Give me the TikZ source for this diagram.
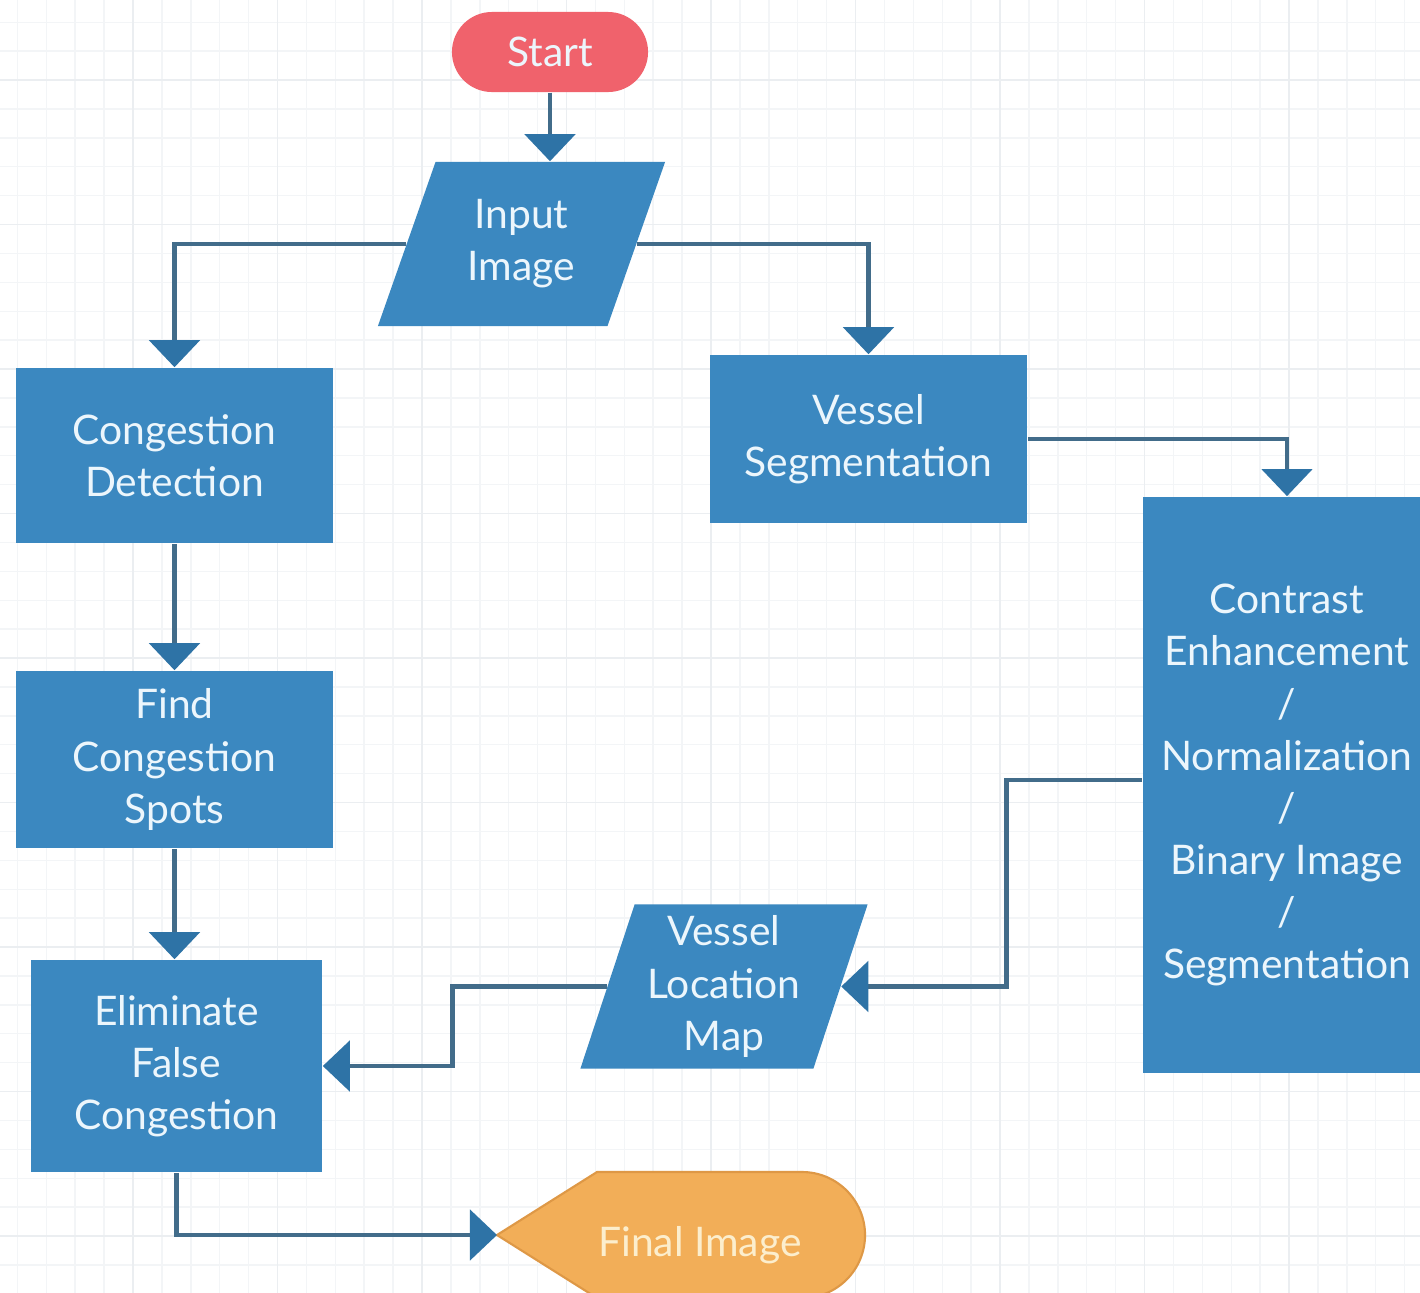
\documentclass[tikz,border=0pt]{standalone}
\usepackage{fontspec}
\setmainfont{Lato}
\usetikzlibrary{arrows.meta,shapes.geometric,calc}
\definecolor{procblue}{RGB}{59,136,192}
\definecolor{startred}{RGB}{240,98,108}
\definecolor{finalorange}{RGB}{242,174,88}
\definecolor{finaledge}{RGB}{222,152,70}
\definecolor{finaltext}{RGB}{252,238,205}
\definecolor{boxtext}{RGB}{236,246,252}
\definecolor{linkgrey}{RGB}{66,108,138}
\definecolor{tipblue}{RGB}{46,115,166}
\definecolor{minorgrid}{RGB}{243,245,247}
\definecolor{majorgrid}{RGB}{235,238,241}
\begin{document}
\begin{tikzpicture}[x=0.01cm,y=-0.01cm,
	every node/.style={text=boxtext,font=\fontsize{11.6}{14.8}\selectfont,align=center,inner sep=0pt},
	term/.style={rectangle,rounded corners=0.4cm,fill=startred,minimum width=1.96cm,minimum height=0.8cm},
	proc/.style={rectangle,fill=procblue},
	io/.style={trapezium,trapezium stretches body,fill=procblue,minimum width=2.87cm,minimum height=1.64cm},
	flow/.style={draw=linkgrey,line width=1.4pt,-{Triangle[width=0.5cm,length=0.27cm,color=tipblue]}}]
	\clip (0,0) rectangle (1420,1293);
	\fill[white] (0,0) rectangle (1420,1293);
	\foreach \g in {17.4,46.3,...,1420} \draw[minorgrid,line width=0.4pt] (\g,0) -- (\g,1293);
	\foreach \g in {22.2,51.1,...,1293} \draw[minorgrid,line width=0.4pt] (0,\g) -- (1420,\g);
	\foreach \g in {133,277.5,...,1420} \draw[majorgrid,line width=0.5pt] (\g,0) -- (\g,1293);
	\foreach \g in {80,224.5,...,1293} \draw[majorgrid,line width=0.5pt] (0,\g) -- (1420,\g);
	\fill[finalorange,draw=finaledge,line width=0.6pt] (497,1235) -- (597,1172) -- (802,1172) arc[start angle=90,end angle=-90,radius=0.63cm] -- (597,1298) -- cycle;
	\node[term] (start) at (550,52) {Start};
	\node[io,trapezium left angle=57,trapezium right angle=123] (inp) at (521.5,244) {Input\\Image};
	\node[proc,minimum width=3.17cm,minimum height=1.75cm] (cd) at (174.5,455.5) {Congestion\\Detection};
	\node[proc,minimum width=3.17cm,minimum height=1.77cm] (fcs) at (174.5,759.5) {Find\\Congestion\\Spots};
	\node[proc,minimum width=2.91cm,minimum height=2.12cm] (efc) at (176.5,1066) {Eliminate\\False\\Congestion};
	\node[proc,minimum width=3.17cm,minimum height=1.68cm] (vs) at (868.5,439) {Vessel\\Segmentation};
	\node[proc,minimum width=2.88cm,minimum height=5.76cm] (ce) at (1287,785) {Contrast\\Enhancement\\/\\Normalization\\/\\Binary Image\\/\\Segmentation};
	\node[io,trapezium left angle=69,trapezium right angle=111] (vlm) at (724,986.5) {Vessel\\Location\\Map};
	\node[text=finaltext] (fin) at (700,1245) {Final Image};
	\coordinate (finL) at (497,1235);
	\draw[flow] (start.south) -- (start.south |- inp.north);
	\draw[flow] (inp.left side) -| (cd.north);
	\draw[flow] (inp.right side) -| (vs.north);
	\draw[flow] (vs.east) -| (ce.north);
	\draw[flow] (cd.south) -- (fcs.north);
	\draw[flow] (fcs.south) -- (fcs.south |- efc.north);
	\draw[flow] ($(ce.west)+(0,-5)$) -- ++(-136,0) |- (vlm.right side);
	\draw[flow] (vlm.left side) -- ++(-154,0) |- (efc.east);
	\draw[flow] (efc.south) |- (finL);
\end{tikzpicture}
\end{document}
